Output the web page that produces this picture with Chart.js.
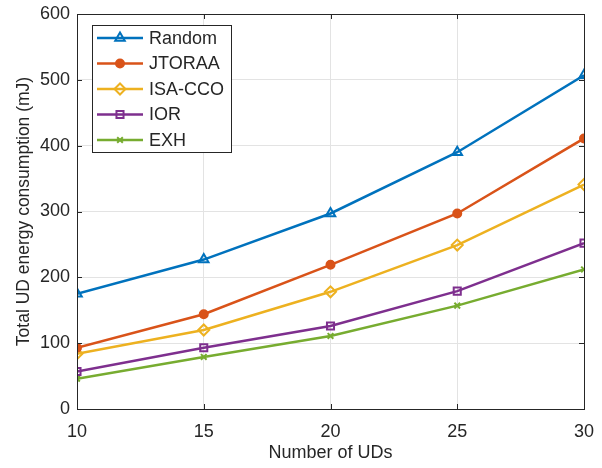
<!DOCTYPE html>
<html>
<head>
<meta charset="utf-8">
<script src="https://cdn.jsdelivr.net/npm/chart.js@4"></script>
<style>
  html, body { margin: 0; padding: 0; background: #fff; }
  #wrap { width: 602px; height: 468px; }
</style>
</head>
<body>
<div id="wrap"><canvas id="energyChart" width="602" height="468"></canvas></div>
<script>
// 資料
const numUDs = [10, 15, 20, 25, 30];
const randomVals = [175, 227, 297, 390, 507];
const jtoraaVals = [93, 144, 219, 297, 411];
const isaccoVals = [84, 120, 178, 249, 341];
const iorVals = [57, 93, 126, 179, 252];
const exhVals = [46, 79, 111, 157, 212];
const yTicks = [0, 100, 200, 300, 400, 500, 600];

const FONT = 'Liberation Sans, Arial, Helvetica, sans-serif';
const AXIS = '#262626';

function pts(vals) {
    return numUDs.map((x, i) => ({ x: x, y: vals[i] }));
}

function series(label, vals, color, style, filled) {
    return {
        label: label,
        data: pts(vals),
        borderColor: color,
        backgroundColor: filled ? color : '#ffffff',
        pointBackgroundColor: filled ? color : 'rgba(0,0,0,0)',
        pointBorderColor: color,
        pointStyle: style,
        pointRadius: style === 'circle' ? 4 : 5.5,
        pointBorderWidth: 2,
        borderWidth: 2.5,
        tension: 0,
        fill: false
    };
}

const datasets = [
    series('Random', randomVals, '#0072BD', 'triangle', false),
    series('JTORAA', jtoraaVals, '#D95319', 'circle', true),
    series('ISA-CCO', isaccoVals, '#EDB120', 'rectRot', false),
    series('IOR', iorVals, '#7E2F8E', 'rect', false),
    series('EXH', exhVals, '#77AC30', 'crossRot', false)
];
datasets[3].pointRadius = 5;
datasets[4].pointRadius = 4;

// 框線、內側刻度與圖例
const boxPlugin = {
    id: 'boxPlugin',
    afterDatasetsDraw(chart) {
        const { ctx, chartArea: a, scales } = chart;
        ctx.save();
        ctx.strokeStyle = AXIS;
        ctx.lineWidth = 1;
        ctx.beginPath();
        scales.x.ticks.forEach(t => {
            const px = Math.round(scales.x.getPixelForValue(t.value)) + 0.5;
            ctx.moveTo(px, a.bottom); ctx.lineTo(px, a.bottom - 5);
            ctx.moveTo(px, a.top); ctx.lineTo(px, a.top + 5);
        });
        scales.y.ticks.forEach(t => {
            const py = Math.round(scales.y.getPixelForValue(t.value)) + 0.5;
            ctx.moveTo(a.left, py); ctx.lineTo(a.left + 5, py);
            ctx.moveTo(a.right, py); ctx.lineTo(a.right - 5, py);
        });
        ctx.stroke();
        ctx.strokeRect(Math.round(a.left) + 0.5, Math.round(a.top) + 0.5,
            Math.round(a.right - a.left), Math.round(a.bottom - a.top));

        // 圖例
        const lx = a.left + 15, ly = a.top + 11, lw = 139, lh = 127;
        ctx.fillStyle = '#ffffff';
        ctx.fillRect(lx, ly, lw, lh);
        ctx.strokeStyle = AXIS;
        ctx.strokeRect(lx + 0.5, ly + 0.5, lw, lh);
        ctx.font = '18px ' + FONT;
        ctx.textBaseline = 'middle';
        chart.data.datasets.forEach((ds, i) => {
            const cy = ly + 13 + i * 25.5;
            ctx.strokeStyle = ds.borderColor;
            ctx.lineWidth = 2.5;
            ctx.beginPath();
            ctx.moveTo(lx + 5, cy); ctx.lineTo(lx + 51, cy);
            ctx.stroke();
            ctx.fillStyle = ds.pointBackgroundColor;
            ctx.strokeStyle = ds.pointBorderColor;
            ctx.lineWidth = ds.pointBorderWidth;
            Chart.helpers.drawPoint(ctx, {
                pointStyle: ds.pointStyle, radius: ds.pointRadius,
                rotation: 0, borderWidth: ds.pointBorderWidth
            }, lx + 28, cy);
            ctx.fillStyle = AXIS;
            ctx.fillText(ds.label, lx + 57, cy + 1);
        });
        ctx.restore();
    }
};

const chart = new Chart(document.getElementById('energyChart'), {
    type: 'line',
    data: { datasets: datasets },
    plugins: [boxPlugin],
    options: {
        responsive: false,
        animation: false,
        layout: { padding: { top: 14, right: 18, left: 0, bottom: 0 } },
        plugins: { legend: { display: false }, tooltip: { enabled: false } },
        scales: {
            x: {
                type: 'linear',
                min: 10, max: 30,
                afterBuildTicks: s => { s.ticks = numUDs.map(v => ({ value: v })); },
                afterFit: s => { s.height = 59; s.paddingLeft = 0; s.paddingRight = 0; },
                grid: { color: '#e3e3e3', drawTicks: false },
                border: { display: false },
                ticks: { color: AXIS, font: { size: 18, family: FONT }, padding: 12, maxRotation: 0 },
                title: { display: true, text: 'Number of UDs', color: AXIS, font: { size: 18, family: FONT }, padding: { top: 0 } }
            },
            y: {
                min: 0, max: 600,
                afterBuildTicks: s => { s.ticks = yTicks.map(v => ({ value: v })); },
                afterFit: s => { s.width = 77; s.paddingTop = 0; s.paddingBottom = 0; },
                grid: { color: '#e3e3e3', drawTicks: false },
                border: { display: false },
                ticks: { color: AXIS, font: { size: 18, family: FONT }, padding: 7 },
                title: { display: true, text: 'Total UD energy consumption (mJ)', color: AXIS, font: { size: 17.5, family: FONT }, padding: { top: 14 } }
            }
        }
    }
});
</script>
</body>
</html>
